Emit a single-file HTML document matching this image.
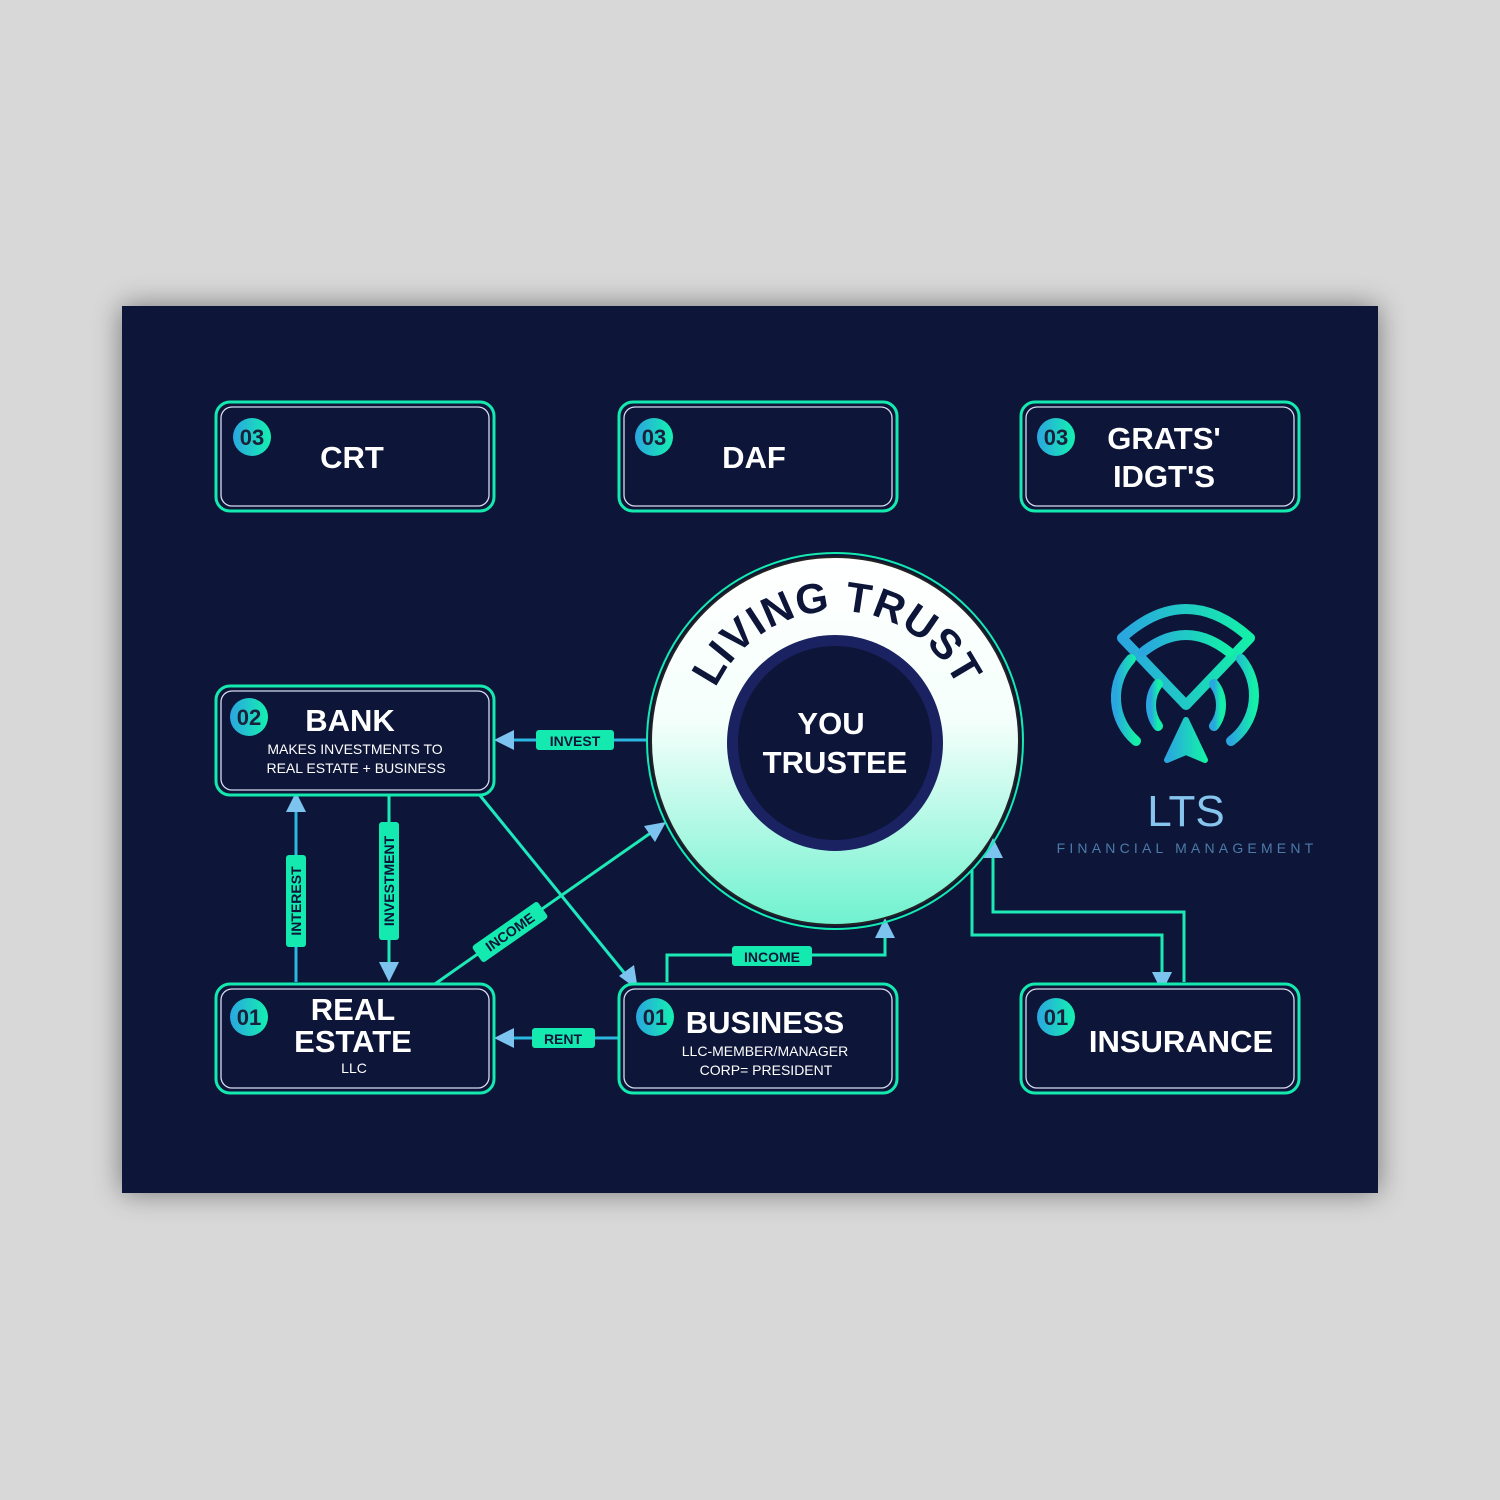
<!DOCTYPE html>
<html><head><meta charset="utf-8"><style>
html,body{margin:0;padding:0;background:#d8d8d8;}
svg{display:block;font-family:"Liberation Sans","DejaVu Sans",sans-serif;}
</style></head><body>
<svg width="1500" height="1500" viewBox="0 0 1500 1500" xmlns="http://www.w3.org/2000/svg">
<defs>
<linearGradient id="bg" x1="0" y1="0" x2="1" y2="0"><stop offset="0" stop-color="#2aa6e0"/><stop offset="1" stop-color="#14f0b0"/></linearGradient>
<linearGradient id="ring" x1="0" y1="0" x2="0" y2="1"><stop offset="0" stop-color="#ffffff"/><stop offset="0.45" stop-color="#f4fffb"/><stop offset="1" stop-color="#6ff2cf"/></linearGradient>
<linearGradient id="logo" x1="0" y1="0" x2="1" y2="0"><stop offset="0" stop-color="#2aa6e0"/><stop offset="1" stop-color="#14f0a8"/></linearGradient>
<filter id="sh" x="-20%" y="-20%" width="140%" height="140%"><feDropShadow dx="0" dy="0" stdDeviation="14" flood-color="#000" flood-opacity="0.45"/></filter>
<path id="arc" d="M 703,745 A 134,134 0 1 1 971,745"/>
</defs>
<rect x="122" y="306" width="1256" height="887" fill="#0d1538" filter="url(#sh)"/>

<g fill="none" stroke-width="3">
<line x1="647" y1="740" x2="512" y2="740" stroke="#2bb7e0"/>
<line x1="478" y1="793" x2="626" y2="975" stroke="#1de9c0"/>
<line x1="432" y1="986" x2="652" y2="832" stroke="#1de9b6"/>
<line x1="296" y1="982" x2="296" y2="810" stroke="#2bb7e0"/>
<line x1="389" y1="795" x2="389" y2="965" stroke="#1de9b6"/>
<line x1="618" y1="1038" x2="512" y2="1038" stroke="#2bb7e0"/>
<polyline points="667,982 667,955 885,955 885,935" stroke="#1de9b6"/>
<polyline points="972,870 972,935 1162,935 1162,975" stroke="#1de9b6"/>
<polyline points="1184,982 1184,912 993,912 993,855" stroke="#1de9b6"/>
</g>
<g fill="#7cc4ef">
<polygon points="494,740 514,730 514,750"/>
<polygon points="638,990 619,976 634,965"/>
<polygon points="666,822 655,842 644,826"/>
<polygon points="296,792 286,812 306,812"/>
<polygon points="389,982 379,962 399,962"/>
<polygon points="494,1038 514,1028 514,1048"/>
<polygon points="885,918 875,938 895,938"/>
<polygon points="1162,992 1152,972 1172,972"/>
<polygon points="993,838 983,858 1003,858"/>
</g>
<g font-weight="bold" font-size="14" fill="#0d1538" text-anchor="middle">
<rect x="536" y="730" width="78" height="20" rx="3" fill="#14eab0"/><text x="575" y="746">INVEST</text>
<rect x="532" y="1028" width="63" height="20" rx="3" fill="#14eab0"/><text x="563" y="1044">RENT</text>
<rect x="732" y="946" width="80" height="20" rx="3" fill="#14eab0"/><text x="772" y="962">INCOME</text>
<g transform="translate(510,932) rotate(-35)"><rect x="-40" y="-10" width="80" height="20" rx="3" fill="#14eab0"/><text x="0" y="5">INCOME</text></g>
<g transform="translate(296,901) rotate(-90)"><rect x="-46" y="-10" width="92" height="20" rx="3" fill="#14eab0"/><text x="0" y="5">INTEREST</text></g>
<g transform="translate(389,881) rotate(-90)"><rect x="-59" y="-10" width="118" height="20" rx="3" fill="#14eab0"/><text x="0" y="5">INVESTMENT</text></g>
</g>

<g fill="#0d1538">
<rect x="216" y="402" width="278" height="109" rx="14" stroke="#14eab0" stroke-width="3"/>
<rect x="221" y="407" width="268" height="99" rx="11" stroke="#d8dcf0" stroke-width="1.3"/>
<rect x="619" y="402" width="278" height="109" rx="14" stroke="#14eab0" stroke-width="3"/>
<rect x="624" y="407" width="268" height="99" rx="11" stroke="#d8dcf0" stroke-width="1.3"/>
<rect x="1021" y="402" width="278" height="109" rx="14" stroke="#14eab0" stroke-width="3"/>
<rect x="1026" y="407" width="268" height="99" rx="11" stroke="#d8dcf0" stroke-width="1.3"/>
<rect x="216" y="686" width="278" height="109" rx="14" stroke="#14eab0" stroke-width="3"/>
<rect x="221" y="691" width="268" height="99" rx="11" stroke="#d8dcf0" stroke-width="1.3"/>
<rect x="216" y="984" width="278" height="109" rx="14" stroke="#14eab0" stroke-width="3"/>
<rect x="221" y="989" width="268" height="99" rx="11" stroke="#d8dcf0" stroke-width="1.3"/>
<rect x="619" y="984" width="278" height="109" rx="14" stroke="#14eab0" stroke-width="3"/>
<rect x="624" y="989" width="268" height="99" rx="11" stroke="#d8dcf0" stroke-width="1.3"/>
<rect x="1021" y="984" width="278" height="109" rx="14" stroke="#14eab0" stroke-width="3"/>
<rect x="1026" y="989" width="268" height="99" rx="11" stroke="#d8dcf0" stroke-width="1.3"/>
</g>
<g fill="url(#bg)">
<circle cx="252" cy="437" r="19"/><circle cx="654" cy="437" r="19"/><circle cx="1056" cy="437" r="19"/>
<circle cx="249" cy="717" r="19"/><circle cx="249" cy="1017" r="19"/><circle cx="655" cy="1017" r="19"/><circle cx="1056" cy="1017" r="19"/>
</g>
<g font-weight="bold" font-size="22" fill="#1a1f3a" text-anchor="middle">
<text x="252" y="445">03</text><text x="654" y="445">03</text><text x="1056" y="445">03</text>
<text x="249" y="725">02</text><text x="249" y="1025">01</text><text x="655" y="1025">01</text><text x="1056" y="1025">01</text>
</g>
<g font-weight="bold" fill="#fff" text-anchor="middle" font-size="31">
<text x="352" y="468">CRT</text>
<text x="754" y="468">DAF</text>
<text x="1164" y="449">GRATS'</text><text x="1164" y="487">IDGT'S</text>
<text x="350" y="731">BANK</text>
<text x="353" y="1020">REAL</text><text x="353" y="1052">ESTATE</text>
<text x="765" y="1033">BUSINESS</text>
<text x="1181" y="1052">INSURANCE</text>
</g>
<g fill="#fff" text-anchor="middle" font-size="14">
<text x="355" y="754">MAKES INVESTMENTS TO</text><text x="356" y="773">REAL ESTATE + BUSINESS</text>
<text x="354" y="1073">LLC</text>
<text x="765" y="1056">LLC-MEMBER/MANAGER</text><text x="766" y="1075">CORP= PRESIDENT</text>
</g>

<circle cx="835" cy="741" r="188" fill="none" stroke="#14eab0" stroke-width="2"/>
<circle cx="835" cy="741" r="184" fill="url(#ring)" stroke="#222" stroke-width="2"/>
<circle cx="835" cy="743" r="108" fill="#1a2262"/>
<circle cx="835" cy="743" r="97" fill="#0d1538"/>
<text font-weight="bold" font-size="42" fill="#0d1538" letter-spacing="1"><textPath href="#arc" startOffset="50%" text-anchor="middle">LIVING TRUST</textPath></text>
<g font-weight="bold" fill="#fff" text-anchor="middle" font-size="31">
<text x="831" y="734">YOU</text><text x="835" y="773">TRUSTEE</text>
</g>

<g fill="none" stroke="url(#logo)" stroke-width="10" stroke-linecap="round" stroke-linejoin="round">
<path d="M1122,638 Q1186,580 1250,638 L1186,705 Z"/>
<path d="M1143,652 Q1186,618 1229,652"/>
<path d="M1136,741 A57,57 0 0 1 1131,659"/>
<path d="M1231,741 A57,57 0 0 0 1241,659"/>
<path d="M1158,726 A35,35 0 0 1 1158,684"/>
<path d="M1214,726 A35,35 0 0 0 1214,684"/>
</g>
<path d="M1186,720 L1205,760 L1186,752 L1167,760 Z" fill="url(#logo)" stroke="url(#logo)" stroke-width="6" stroke-linejoin="round"/>
<text x="1186" y="826" text-anchor="middle" font-size="44" fill="#86c6ee">LTS</text>
<text x="1187" y="853" text-anchor="middle" font-size="14" fill="#4d7aa8" letter-spacing="4.2">FINANCIAL MANAGEMENT</text>
</svg>
</body></html>
